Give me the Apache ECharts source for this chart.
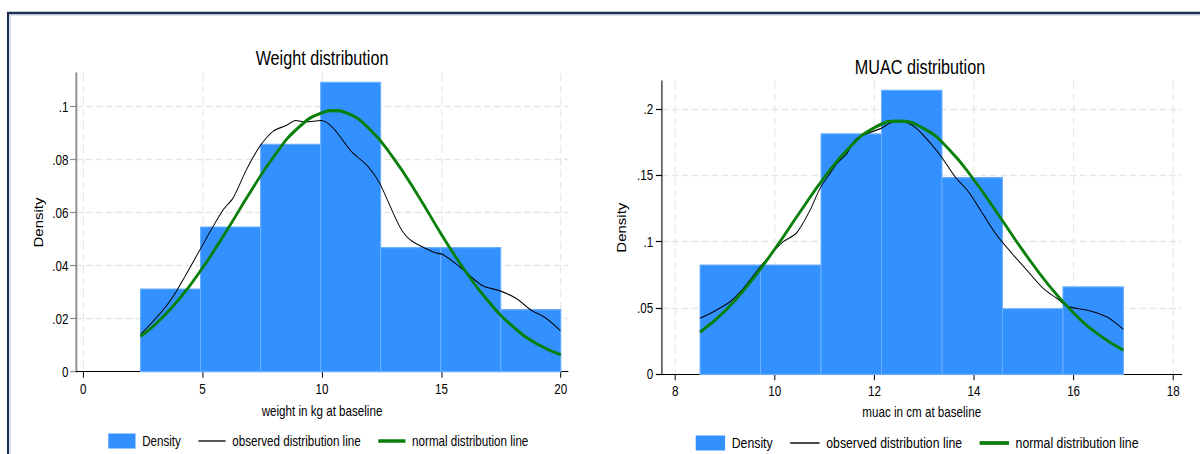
<!DOCTYPE html>
<html>
<head>
<meta charset="utf-8">
<script src="https://cdn.jsdelivr.net/npm/echarts@6/dist/echarts.min.js"></script>
<style>
  html, body { margin: 0; padding: 0; background: #fff; overflow: hidden; }
  /* The graph is laid out on a wider canvas and squeezed horizontally,
     giving the tall, condensed lettering of the exported figure. */
  #chart { height: 454px; transform-origin: 0 0; }
</style>
</head>
<body>
<div id="chart"></div>
<script>
// ---- Weight (kg) panel ----
const weightBinEdges = [2.4, 4.914, 7.429, 9.943, 12.457, 14.971, 17.486, 20];
const weightDensity = [0.0312, 0.0546, 0.0858, 0.1092, 0.0468, 0.0468, 0.0234];
const weightObserved = [
  [2.41, 0.0141], [3.29, 0.0227], [3.77, 0.0284], [4.26, 0.0359], [4.89, 0.046],
  [5.44, 0.0548], [5.86, 0.0611], [6.28, 0.0656], [6.84, 0.0763], [7.4, 0.0851],
  [7.95, 0.0907], [8.5, 0.0929], [8.9, 0.0948], [9.3, 0.0942], [9.97, 0.0948],
  [10.46, 0.092], [11.22, 0.0832], [11.92, 0.0775], [12.41, 0.0712], [13.25, 0.0548],
  [13.73, 0.0495], [14.71, 0.045], [15.06, 0.0442], [15.75, 0.0397], [16.73, 0.0324],
  [17.43, 0.0306], [18.12, 0.0277], [18.75, 0.0233], [19.38, 0.0202], [19.98, 0.0155]
];
const weightNormal = [
  [2.4, 0.0133], [3, 0.0177], [4, 0.0272], [5, 0.0392], [6, 0.0531], [7, 0.0678],
  [8, 0.0814], [9, 0.092], [10, 0.0977], [10.5, 0.0985], [11, 0.0977], [12, 0.0915],
  [13, 0.0805], [14, 0.0668], [15, 0.0518], [16, 0.038], [17, 0.0262], [18, 0.017],
  [19, 0.0105], [20, 0.0064]
];
const weightXTicks = [0, 5, 10, 15, 20];
const weightYTicks = [0, 0.02, 0.04, 0.06, 0.08, 0.1];

// ---- MUAC (cm) panel ----
const muacBinEdges = [8.5, 9.714, 10.929, 12.143, 13.357, 14.571, 15.786, 17.0];
const muacDensity = [0.0824, 0.0824, 0.1812, 0.2141, 0.1482, 0.0494, 0.0659];
const muacObserved = [
  [8.5, 0.0422], [8.77, 0.0472], [9.1, 0.0547], [9.37, 0.0648], [9.71, 0.0811],
  [9.97, 0.0924], [10.17, 0.1], [10.44, 0.1067], [10.71, 0.1238], [10.91, 0.1402],
  [11.11, 0.1515], [11.25, 0.159], [11.45, 0.1666], [11.61, 0.1766], [11.78, 0.1804],
  [12.11, 0.185], [12.31, 0.1892], [12.48, 0.1909], [12.75, 0.1879], [12.98, 0.1804],
  [13.32, 0.1653], [13.62, 0.1489], [13.89, 0.1376], [14.13, 0.1238], [14.43, 0.1063],
  [14.76, 0.0912], [15.06, 0.0786], [15.39, 0.0648], [15.66, 0.0573], [15.89, 0.051],
  [16.26, 0.0485], [16.66, 0.0434], [17.0, 0.0339]
];
const muacNormal = [
  [8.5, 0.0318], [9, 0.0477], [9.5, 0.0691], [10, 0.0944], [10.5, 0.1219], [11, 0.1486],
  [11.5, 0.171], [12, 0.1859], [12.48, 0.1909], [13, 0.1851], [13.5, 0.1695], [14, 0.1465],
  [14.5, 0.1197], [15, 0.0923], [15.5, 0.0672], [16, 0.0462], [16.5, 0.03], [17, 0.0182]
];
const muacXTicks = [8, 10, 12, 14, 16, 18];
const muacYTicks = [0, 0.05, 0.1, 0.15, 0.2];

const seriesNames = ['Density', 'observed distribution line', 'normal distribution line'];

// horizontal squeeze applied to the whole figure
const SQUEEZE = 0.83;
const X = v => v / SQUEEZE;

const el = document.getElementById('chart');
el.style.width = X(1200) + 'px';
el.style.transform = 'scaleX(' + SQUEEZE + ')';

const FONT = "'Liberation Sans', Arial, Helvetica, sans-serif";
const BAR_BLUE = '#3391ff';
const GREEN = '#098009';
const GRID_LINE = { show: true, lineStyle: { color: '#e6e6e6', width: 1.3, type: [8, 4] } };

function bins(edges, dens) {
  return dens.map((d, i) => [edges[i], edges[i + 1], d]);
}
function stataNum(v) {
  if (v === 0) return '0';
  return String(v).replace(/^0\./, '.');
}
function renderBin(params, api) {
  const p0 = api.coord([api.value(0), api.value(2)]);
  const p1 = api.coord([api.value(1), 0]);
  return {
    type: 'rect',
    shape: { x: p0[0], y: p0[1], width: p1[0] - p0[0], height: p1[1] - p0[1] },
    style: { fill: BAR_BLUE, stroke: '#6aafff', lineWidth: 1.2 }
  };
}

function xAxisFor(gridIndex, min, max, ticks, name, nameGap) {
  return {
    type: 'value', gridIndex, min, max,
    name, nameLocation: 'middle', nameGap,
    nameTextStyle: { fontFamily: FONT, fontSize: 14, color: '#000' },
    axisLine: { show: true, onZero: false, lineStyle: { color: '#000', width: 1.2 } },
    axisTick: { show: true, length: 6, customValues: ticks, lineStyle: { color: '#000', width: 1.2 } },
    axisLabel: { customValues: ticks, margin: 10, fontFamily: FONT, fontSize: 14, color: '#000',
                 formatter: stataNum },
    splitLine: Object.assign({ customValues: ticks }, GRID_LINE)
  };
}
function yAxisFor(gridIndex, max, ticks, axisColor, axisWidth, nameGap, labelMargin) {
  return {
    type: 'value', gridIndex, min: 0, max,
    name: 'Density', nameLocation: 'middle', nameGap, nameRotate: 90,
    nameTextStyle: { fontFamily: FONT, fontSize: 15, color: '#000' },
    axisLine: { show: true, onZero: false, lineStyle: { color: axisColor, width: axisWidth } },
    axisTick: { show: true, length: 7, customValues: ticks, lineStyle: { color: axisColor, width: 1.2 } },
    axisLabel: { customValues: ticks, margin: labelMargin, fontFamily: FONT, fontSize: 14, color: '#000',
                 formatter: stataNum },
    splitLine: Object.assign({ customValues: ticks }, GRID_LINE)
  };
}
function panelSeries(idx, edges, dens, observed, normal) {
  return [
    { name: seriesNames[0], type: 'custom', xAxisIndex: idx, yAxisIndex: idx,
      renderItem: renderBin, data: bins(edges, dens), z: 2 },
    { name: seriesNames[1], type: 'line', xAxisIndex: idx, yAxisIndex: idx, symbol: 'none',
      smooth: 0.3, data: observed, lineStyle: { color: '#000', width: 1.1 }, itemStyle: { color: '#000' }, z: 3 },
    { name: seriesNames[2], type: 'line', xAxisIndex: idx, yAxisIndex: idx, symbol: 'none',
      smooth: true, data: normal, lineStyle: { color: GREEN, width: 3.2 }, itemStyle: { color: GREEN }, z: 4 }
  ];
}
function legendFor(idx, left, top, w, fontSize) {
  return {
    seriesIndex: [idx * 3, idx * 3 + 1, idx * 3 + 2],
    left, top, orient: 'horizontal', padding: 0,
    itemWidth: w, itemHeight: 15, itemGap: X(17.5),
    selectedMode: false,
    symbolKeepAspect: true,
    textStyle: { fontFamily: FONT, fontSize, color: '#000', padding: [0, 0, 0, 3] },
    data: [
      { name: seriesNames[0], icon: 'rect', itemStyle: { color: BAR_BLUE } },
      { name: seriesNames[1], icon: 'path://M0,0H30V1.2H0Z', itemStyle: { color: '#000' } },
      { name: seriesNames[2], icon: 'path://M0,0H30V3.2H0Z', itemStyle: { color: GREEN } }
    ]
  };
}

const chart = echarts.init(el, null, { renderer: 'svg' });
chart.setOption({
  animation: false,
  backgroundColor: '#fff',
  title: [
    { text: 'Weight distribution', left: X(322), top: 48, textAlign: 'center', padding: 0,
      textStyle: { fontFamily: FONT, fontSize: 19.5, fontWeight: 'normal', color: '#000' } },
    { text: 'MUAC distribution', left: X(920), top: 57, textAlign: 'center', padding: 0,
      textStyle: { fontFamily: FONT, fontSize: 19.5, fontWeight: 'normal', color: '#000' } }
  ],
  grid: [
    { left: X(76), top: 73.3, width: X(492), height: 298.4, containLabel: false },
    { left: X(661.7), top: 81, width: X(520), height: 293.3, containLabel: false }
  ],
  xAxis: [
    xAxisFor(0, -0.3, 20.3, weightXTicks, 'weight in kg at baseline', 32),
    xAxisFor(1, 7.73, 18.17, muacXTicks, 'muac in cm at baseline', 31)
  ],
  yAxis: [
    yAxisFor(0, 0.1126, weightYTicks, '#8a8a8a', 2.2, 37, X(7.5)),
    yAxisFor(1, 0.2211, muacYTicks, '#000', 1.3, 40, X(8.5))
  ],
  legend: [
    legendFor(0, X(108.3), 433.5, X(27.2), 14),
    legendFor(1, X(695.7), 435.5, X(29.4), 14.8)
  ],
  graphic: [
    { type: 'polyline', silent: true, z: 10,
      shape: { points: [[X(8), 454], [X(8), 13], [X(1200), 13]] },
      style: { stroke: '#1b2d52', lineWidth: 2.5, fill: null } },
    { type: 'polyline', silent: true, z: 10,
      shape: { points: [[X(10), 454], [X(10), 15], [X(1200), 15]] },
      style: { stroke: '#b8c2d2', lineWidth: 1, fill: null } }
  ],
  series: [].concat(
    panelSeries(0, weightBinEdges, weightDensity, weightObserved, weightNormal),
    panelSeries(1, muacBinEdges, muacDensity, muacObserved, muacNormal)
  )
});
</script>
</body>
</html>
